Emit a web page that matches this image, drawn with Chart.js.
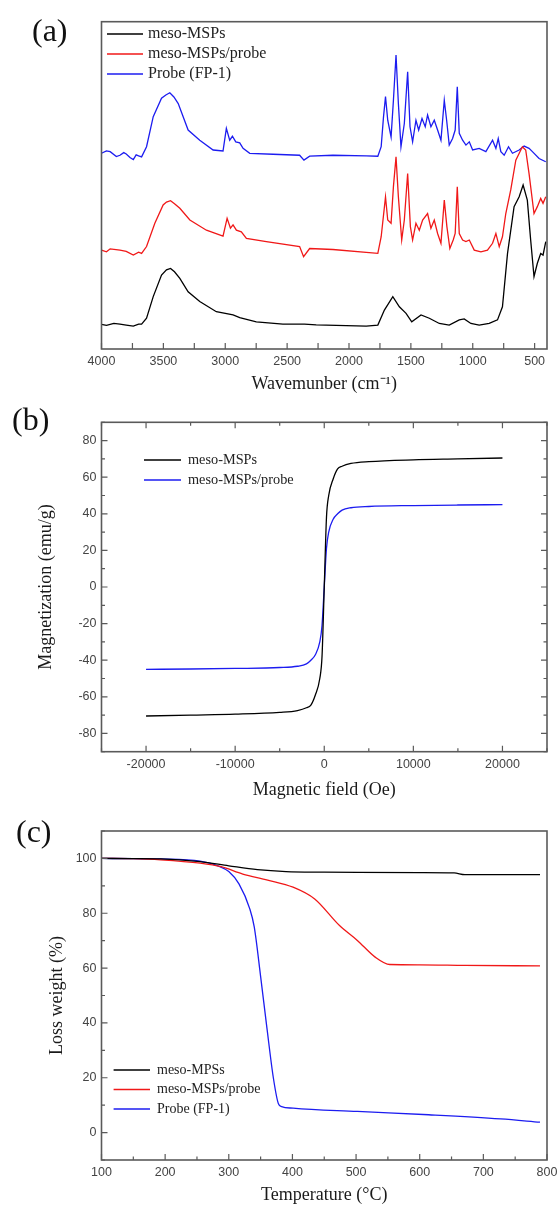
<!DOCTYPE html>
<html>
<head>
<meta charset="utf-8">
<script src="https://cdn.jsdelivr.net/npm/chart.js@4.4.1/dist/chart.umd.min.js"></script>
<style>
  body { margin: 0; background: #fff; }
  #page { position: relative; width: 560px; height: 1206px; }
  canvas { position: absolute; left: 0; }
  .tag { position: absolute; font: 32px "Liberation Serif", serif; line-height: 32px; color: #111; }
</style>
</head>
<body>
<div id="page">
  <canvas id="chartA" width="560" height="400" style="top:0"></canvas>
  <canvas id="chartB" width="560" height="405" style="top:400px"></canvas>
  <canvas id="chartC" width="560" height="401" style="top:805px"></canvas>
  <div class="tag" style="left:32px; top:14px">(a)</div>
  <div class="tag" style="left:12px; top:403px">(b)</div>
  <div class="tag" style="left:16px; top:815px">(c)</div>
</div>
<script>
// (a) FTIR, transmittance in arbitrary units
const irBlackWn = [4000,3960,3900,3851,3800,3743,3700,3676,3636,3582,3515,3475,3442,3410,3367,3300,3206,3072,2937,2883,2749,2534,2360,2265,1861,1767,1714,1646,1593,1539,1493,1418,1351,1270,1190,1109,1069,1015,948,867,800,760,719,666,625,593,559,532,505,478,451,432,410];
const irBlackT = [7.5,7.2,7.8,7.6,7.3,7.0,7.6,7.6,9.4,16.0,22.6,24.2,24.6,23.6,21.6,17.5,14.5,11.4,10.4,9.6,8.3,7.6,7.6,7.4,7.0,7.3,11.9,16.0,12.9,10.9,8.3,10.4,9.4,7.8,7.3,8.9,9.2,7.8,7.3,7.8,8.9,12.9,29.2,43.5,46.5,50.1,45.5,33.3,22.1,26.2,29.2,28.7,32.8];

const irRedWn = [4000,3960,3930,3851,3800,3743,3700,3676,3636,3569,3502,3475,3442,3410,3367,3286,3152,3018,2985,2958,2937,2910,2870,2829,2668,2399,2367,2318,2130,1861,1767,1740,1705,1687,1660,1641,1620,1601,1574,1553,1526,1504,1486,1459,1432,1405,1365,1338,1311,1284,1257,1230,1209,1185,1158,1142,1125,1109,1082,1055,1028,988,934,881,840,813,786,760,733,693,652,599,572,545,505,478,451,432,410];
const irRedT = [30.2,29.7,30.6,30.2,29.8,28.7,29.6,29.2,31.3,38.4,44.0,44.9,45.3,44.4,43.0,39.4,36.3,34.5,39.9,36.9,37.9,36.3,35.8,33.8,32.8,31.3,28.2,30.7,30.4,29.5,29.2,34.3,46.5,39.4,38.4,49.6,58.7,46.5,33.3,39.4,53.6,37.4,33.3,38.4,36.3,39.4,41.4,36.9,39.4,35.3,32.3,45.5,37.4,30.7,33.3,35.3,49.6,35.3,33.3,32.8,33.3,30.2,29.7,30.2,32.3,35.3,31.3,34.3,41.4,48.6,57.7,61.8,60.8,53.6,41.4,43.5,46.0,44.5,46.5];

const irBlueWn = [4000,3960,3930,3880,3851,3820,3800,3770,3743,3720,3700,3676,3636,3582,3515,3480,3448,3415,3380,3300,3206,3098,3018,2991,2964,2942,2915,2883,2856,2802,2614,2399,2364,2318,2130,1861,1767,1740,1721,1705,1687,1660,1641,1620,1601,1580,1553,1526,1507,1486,1459,1437,1410,1384,1365,1338,1311,1284,1257,1230,1211,1190,1163,1142,1125,1109,1082,1055,1028,1001,948,894,840,813,794,773,746,711,679,625,585,545,518,464,410];
const irBlueT = [59.8,60.5,60.3,58.8,59.2,60.0,59.6,58.5,57.9,59.3,59.0,58.7,61.8,71.0,76.6,77.6,78.3,77.0,75.0,66.9,63.8,60.8,60.5,67.4,63.8,65.0,63.3,63.0,61.3,59.8,59.5,59.2,57.7,58.9,59.2,59.0,58.9,61.8,71.0,77.1,69.9,64.8,76.0,89.8,75.0,61.8,68.9,84.7,67.9,63.3,69.9,66.9,70.4,67.9,71.5,67.9,69.9,66.9,63.8,76.0,69.9,62.3,64.3,66.9,80.1,65.9,63.8,62.3,63.3,60.8,61.3,60.3,63.8,61.3,64.3,60.3,59.2,61.8,59.8,60.8,62.0,61.3,60.3,58.2,57.2];

// (b) magnetization curves
const magField = [-20000,-15000,-10000,-5000,-3000,-2000,-1500,-1000,-500,-250,0,250,500,1000,1500,2000,3000,5000,10000,15000,20000];
const magBare  = [-70.5,-70,-69.5,-68.5,-67.5,-66,-64.5,-59,-50,-38,0,38,50,59,64.5,66,67.5,68.5,69.5,70,70.5];
const magProbe = [-45,-44.8,-44.5,-44,-43.3,-42,-40,-37,-30,-21,0,21,30,37,40,42,43.3,44,44.5,44.8,45];

// (c) TGA
const tgaBareT  = [100,150,193,255,300,345,390,450,502,600,654,671,700,789];
const tgaBareW  = [100,99.9,99.8,98.8,97.3,95.9,95.2,95.0,94.9,94.8,94.7,94.1,94.1,94.1];
const tgaMixT   = [100,150,193,255,288,322,361,401,435,474,502,530,553,600,671,789];
const tgaMixW   = [100,99.9,99.5,98.3,97.0,94.3,92.1,89.5,85.2,75.5,70.1,64.0,61.3,61.2,61.0,60.8];
const tgaProbeT = [100,150,193,255,283,300,316,333,340,350,360,370,378,383,401,502,614,727,789];
const tgaProbeW = [100,99.9,99.8,99.0,97.3,95.2,90.7,81.6,75,57,38,20,10.5,9.5,8.9,7.7,6.5,5.0,3.8];

const pts = (xs, ys) => xs.map((x, i) => ({ x: x, y: ys[i] }));
const onStep = (v, step) => Math.abs(v / step - Math.round(v / step)) < 1e-6;

// box round the plot plus inward ticks, like Origin draws them
const frameTicks = {
  id: 'frameTicks',
  afterDraw(chart, args, o) {
    const { ctx, chartArea: a } = chart;
    const xs = chart.scales.x, ys = chart.scales.y;
    ctx.save();
    ctx.strokeStyle = '#5a5a5a';
    ctx.lineWidth = 1.6;
    ctx.strokeRect(a.left, a.top, a.right - a.left, a.bottom - a.top);
    ctx.lineWidth = 1.2;
    ctx.beginPath();
    xs.ticks.forEach(t => {
      if (!onStep(t.value, o.xStep)) return;
      const px = xs.getPixelForValue(t.value);
      const len = t.label !== '' ? o.major : o.minor;
      if (o.sides.includes('bottom')) { ctx.moveTo(px, a.bottom); ctx.lineTo(px, a.bottom - len); }
      if (o.sides.includes('top')) { ctx.moveTo(px, a.top); ctx.lineTo(px, a.top + len); }
    });
    ys.ticks.forEach(t => {
      if (!onStep(t.value, o.yStep)) return;
      const py = ys.getPixelForValue(t.value);
      const len = t.label !== '' ? o.major : o.minor;
      if (o.sides.includes('left')) { ctx.moveTo(a.left, py); ctx.lineTo(a.left + len, py); }
      if (o.sides.includes('right')) { ctx.moveTo(a.right, py); ctx.lineTo(a.right - len, py); }
    });
    ctx.stroke();
    ctx.restore();
  }
};

// legend drawn inside the plot, line + label
const inLegend = {
  id: 'inLegend',
  afterDatasetsDraw(chart, args, o) {
    const ctx = chart.ctx;
    ctx.save();
    ctx.font = o.size + 'px "Liberation Serif"';
    ctx.textBaseline = 'middle';
    chart.data.datasets.forEach((ds, i) => {
      const y = o.y + i * o.gap;
      ctx.strokeStyle = ds.borderColor;
      ctx.lineWidth = 1.5;
      ctx.beginPath();
      ctx.moveTo(o.x, y);
      ctx.lineTo(o.x + o.len, y);
      ctx.stroke();
      ctx.fillStyle = '#222';
      ctx.fillText(ds.label, o.x + o.len + o.pad, y);
    });
    ctx.restore();
  }
};

const tickFont = { family: 'Liberation Sans', size: 12.5 };
const titleFont = { family: 'Liberation Serif', size: 18 };

function makePanel(id, o) {
  return new Chart(document.getElementById(id), {
    type: 'line',
    data: { datasets: o.datasets },
    options: {
      responsive: false,
      animation: false,
      devicePixelRatio: 1,
      layout: { padding: { top: o.top, right: 13, left: 0, bottom: 0 } },
      elements: { point: { radius: 0 }, line: { borderWidth: 1.3 } },
      plugins: {
        legend: { display: false },
        tooltip: { enabled: false },
        frameTicks: { sides: o.sides, xStep: o.x.step, yStep: o.y.step, major: 6, minor: o.minor },
        inLegend: o.legend
      },
      scales: {
        x: {
          type: 'linear', min: o.x.min, max: o.x.max, reverse: !!o.x.reverse,
          afterFit: s => { s.height = o.xHeight; s.paddingLeft = 0; s.paddingRight = 0; },
          grid: { display: false, drawTicks: false },
          border: { display: false },
          ticks: {
            stepSize: o.x.step, includeBounds: false, autoSkip: false, maxRotation: 0, padding: 5, maxTicksLimit: 100,
            font: tickFont, color: '#444',
            callback: v => onStep(v, o.x.label) ? String(v) : ''
          },
          title: { display: true, text: o.x.title, font: titleFont, color: '#1a1a1a', padding: { top: 0, bottom: o.x.titlePad } }
        },
        y: {
          type: 'linear', min: o.y.min, max: o.y.max,
          afterFit: s => { s.width = 101.5; s.paddingTop = 0; s.paddingBottom = 0; },
          grid: { display: false, drawTicks: false },
          border: { display: false },
          ticks: {
            display: !!o.y.title, stepSize: o.y.step, includeBounds: false, autoSkip: false, padding: 5, maxTicksLimit: 100,
            font: tickFont, color: '#444',
            callback: v => onStep(v, o.y.label) ? String(v) : ''
          },
          title: { display: !!o.y.title, text: o.y.title || '', font: titleFont, color: '#1a1a1a', padding: { top: o.y.titlePad || 0, bottom: 0 } }
        }
      }
    },
    plugins: [frameTicks, inLegend]
  });
}

const RED = '#f01818', BLUE = '#1c1cf0', BLACK = '#000000';

makePanel('chartA', {
  top: 21.7, xHeight: 51, sides: ['bottom'], minor: 6,
  datasets: [
    { label: 'meso-MSPs', data: pts(irBlackWn, irBlackT), borderColor: BLACK },
    { label: 'meso-MSPs/probe', data: pts(irRedWn, irRedT), borderColor: RED },
    { label: 'Probe (FP-1)', data: pts(irBlueWn, irBlueT), borderColor: BLUE }
  ],
  legend: { x: 107, y: 34, gap: 20, len: 36, pad: 5, size: 16 },
  x: { min: 400, max: 4000, reverse: true, step: 250, label: 500, title: 'Wavemunber (cm\u207B\u00B9)', titlePad: 5 },
  y: { min: 0, max: 100, step: 10, label: 1000 }
});

makePanel('chartB', {
  top: 22.3, xHeight: 53.3, sides: ['bottom', 'top', 'left', 'right'], minor: 3.5,
  datasets: [
    { label: 'meso-MSPs', data: pts(magField, magBare), borderColor: BLACK, cubicInterpolationMode: 'monotone' },
    { label: 'meso-MSPs/probe', data: pts(magField, magProbe), borderColor: BLUE, cubicInterpolationMode: 'monotone' }
  ],
  legend: { x: 144, y: 60, gap: 20, len: 37, pad: 7, size: 14.3 },
  x: { min: -25000, max: 25000, step: 5000, label: 10000, title: 'Magnetic field (Oe)', titlePad: 4 },
  y: { min: -90, max: 90, step: 10, label: 20, title: 'Magnetization (emu/g)', titlePad: 35 }
});

makePanel('chartC', {
  top: 26, xHeight: 46, sides: ['bottom', 'left'], minor: 3.5,
  datasets: [
    { label: 'meso-MPSs', data: pts(tgaBareT, tgaBareW), borderColor: BLACK, cubicInterpolationMode: 'monotone' },
    { label: 'meso-MSPs/probe', data: pts(tgaMixT, tgaMixW), borderColor: RED, cubicInterpolationMode: 'monotone' },
    { label: 'Probe (FP-1)', data: pts(tgaProbeT, tgaProbeW), borderColor: BLUE, cubicInterpolationMode: 'monotone' }
  ],
  legend: { x: 113.6, y: 265, gap: 19.5, len: 36.4, pad: 7, size: 14 },
  x: { min: 100, max: 800, step: 50, label: 100, title: 'Temperature (\u00B0C)', titlePad: 0 },
  y: { min: -10, max: 110, step: 10, label: 20, title: 'Loss weight (%)', titlePad: 46 }
});
</script>
</body>
</html>
